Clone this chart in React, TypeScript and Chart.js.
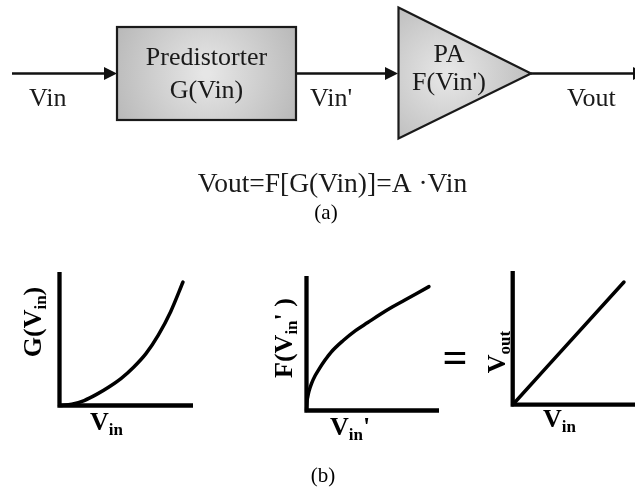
import React, { useEffect, useRef } from "react";
import { Chart, registerables } from "chart.js";

Chart.register(...registerables);

const W = 635;
const H = 490;

// Predistorter characteristic G(Vin) (normalised)
const gIn = [0, 0.1, 0.2, 0.3, 0.4, 0.5, 0.6, 0.7, 0.8, 0.9, 1.0];
const gOut = [0, 0.01, 0.04, 0.09, 0.15, 0.22, 0.31, 0.42, 0.57, 0.76, 1.0];

// PA characteristic F(Vin') (normalised, compressive)
const fIn = [0, 0.005, 0.01, 0.02, 0.04, 0.07, 0.1, 0.15, 0.2, 0.3, 0.4, 0.5, 0.6, 0.7, 0.8, 0.9, 1.0];
const fOut = [0, 0.08, 0.11, 0.155, 0.215, 0.28, 0.33, 0.405, 0.47, 0.565, 0.645, 0.71, 0.775, 0.835, 0.89, 0.945, 1.0];

// Cascaded, linearised response Vout = A·Vin
const linIn = [0, 1];
const linOut = [0, 1];

// Text of the block diagram
const predistorterText = ["Predistorter", "G(Vin)"];
const paText = ["PA", "F(Vin')"];
const signalNames = ["Vin", "Vin'", "Vout"];
const equationText = "Vout=F[G(Vin)]=A \u00B7Vin";
const captions = ["(a)", "(b)"];

type Part = { t: string; sub?: boolean };

const SERIF = '"Liberation Serif", "Times New Roman", serif';

function drawParts(
  ctx: CanvasRenderingContext2D,
  parts: Part[],
  x: number,
  y: number,
  size: number,
  subSize: number,
  subDrop: number
) {
  // draws a run of bold text with subscripts, starting at x on baseline y
  let cx = x;
  for (const p of parts) {
    ctx.font = `bold ${p.sub ? subSize : size}px ${SERIF}`;
    ctx.fillText(p.t, cx, p.sub ? y + subDrop : y);
    cx += ctx.measureText(p.t).width;
  }
  return cx - x;
}

function partsWidth(ctx: CanvasRenderingContext2D, parts: Part[], size: number, subSize: number) {
  let w = 0;
  for (const p of parts) {
    ctx.font = `bold ${p.sub ? subSize : size}px ${SERIF}`;
    w += ctx.measureText(p.t).width;
  }
  return w;
}

type PlotSpec = {
  xs: number[];
  ys: number[];
  area: { left: number; top: number; right: number; bottom: number };
  xMax: number;
  yMax: number;
  xLabel: Part[];
  xLabelAt: [number, number];
  yLabel: Part[];
  yLabelAt: [number, number];
};

const plots: PlotSpec[] = [
  {
    xs: gIn,
    ys: gOut,
    area: { left: 59.5, top: 272, right: 193, bottom: 405.5 },
    xMax: 1.081,
    yMax: 1.081,
    xLabel: [{ t: "V" }, { t: "in", sub: true }],
    xLabelAt: [90, 430],
    yLabel: [{ t: "G(V" }, { t: "in", sub: true }, { t: ")" }],
    yLabelAt: [41, 322],
  },
  {
    xs: fIn,
    ys: fOut,
    area: { left: 306.5, top: 276, right: 439, bottom: 410.5 },
    xMax: 1.082,
    yMax: 1.086,
    xLabel: [{ t: "V" }, { t: "in", sub: true }, { t: "'" }],
    xLabelAt: [330, 435],
    yLabel: [{ t: "F(V" }, { t: "in", sub: true }, { t: "' )" }],
    yLabelAt: [292, 338],
  },
  {
    xs: linIn,
    ys: linOut,
    area: { left: 512.7, top: 271, right: 635, bottom: 404.7 },
    xMax: 1.099,
    yMax: 1.09,
    xLabel: [{ t: "V" }, { t: "in", sub: true }],
    xLabelAt: [543, 427],
    yLabel: [{ t: "V" }, { t: "out", sub: true }],
    yLabelAt: [505, 352],
  },
];

function drawArrow(ctx: CanvasRenderingContext2D, x1: number, x2: number, y: number) {
  const head = 13;
  const half = 6.5;
  ctx.beginPath();
  ctx.moveTo(x1, y);
  ctx.lineTo(x2 - head + 1, y);
  ctx.lineWidth = 2.4;
  ctx.strokeStyle = "#111";
  ctx.stroke();
  ctx.beginPath();
  ctx.moveTo(x2, y);
  ctx.lineTo(x2 - head, y - half);
  ctx.lineTo(x2 - head, y + half);
  ctx.closePath();
  ctx.fillStyle = "#111";
  ctx.fill();
}

const diagramPlugin = {
  id: "blockDiagram",
  afterDraw(chart: any) {
    const ctx: CanvasRenderingContext2D = chart.ctx;
    ctx.save();
    const yLine = 73.5;

    // signal paths
    drawArrow(ctx, 12, 117, yLine);
    drawArrow(ctx, 296, 398, yLine);
    drawArrow(ctx, 531, 646, yLine);

    // predistorter block
    const bx = 117, by = 27, bw = 179, bh = 93;
    const g1 = ctx.createRadialGradient(bx + bw / 2, by + bh / 2, 4, bx + bw / 2, by + bh / 2, 105);
    g1.addColorStop(0, "#e6e6e6");
    g1.addColorStop(1, "#b6b6b6");
    ctx.fillStyle = g1;
    ctx.fillRect(bx, by, bw, bh);
    ctx.lineWidth = 2.2;
    ctx.strokeStyle = "#1a1a1a";
    ctx.strokeRect(bx, by, bw, bh);

    // PA triangle
    const tx = 398.5;
    const g2 = ctx.createRadialGradient(448, 74, 4, 448, 74, 100);
    g2.addColorStop(0, "#e6e6e6");
    g2.addColorStop(1, "#b6b6b6");
    ctx.beginPath();
    ctx.moveTo(tx, 7.5);
    ctx.lineTo(531, yLine);
    ctx.lineTo(tx, 138.5);
    ctx.closePath();
    ctx.fillStyle = g2;
    ctx.fill();
    ctx.lineJoin = "miter";
    ctx.stroke();

    // texts
    ctx.fillStyle = "#1a1a1a";
    ctx.font = `26px ${SERIF}`;
    ctx.textAlign = "center";
    ctx.textBaseline = "alphabetic";
    ctx.fillText(predistorterText[0], 206.5, 65);
    ctx.fillText(predistorterText[1], 206.5, 98);
    ctx.fillText(paText[0], 449, 62);
    ctx.fillText(paText[1], 449, 90);
    ctx.textAlign = "left";
    ctx.fillText(signalNames[0], 29, 106);
    ctx.fillText(signalNames[1], 310, 106);
    ctx.fillText(signalNames[2], 567, 106);

    ctx.textAlign = "center";
    ctx.font = `27.5px ${SERIF}`;
    ctx.fillText(equationText, 332.5, 192);

    ctx.fillStyle = "#000";
    ctx.font = `21px ${SERIF}`;
    ctx.fillText(captions[0], 326, 219);
    ctx.fillText(captions[1], 323, 482);

    // equality sign between the PA curve and the linear response
    ctx.font = `bold 44px ${SERIF}`;
    ctx.fillText("=", 455, 372);
    ctx.restore();
  },
};

function makePlugin(spec: PlotSpec) {
  return {
    id: "transferAxes",
    beforeDatasetsDraw(chart: any) {
      const ctx: CanvasRenderingContext2D = chart.ctx;
      const xs = chart.scales.x;
      const ys = chart.scales.y;
      const x0 = xs.getPixelForValue(0);
      const y0 = ys.getPixelForValue(0);
      const xm = xs.getPixelForValue(xs.max);
      const ym = ys.getPixelForValue(ys.max);
      ctx.save();
      ctx.beginPath();
      ctx.moveTo(x0, ym);
      ctx.lineTo(x0, y0);
      ctx.lineTo(xm, y0);
      ctx.lineWidth = 4.3;
      ctx.lineJoin = "miter";
      ctx.lineCap = "butt";
      ctx.strokeStyle = "#000";
      ctx.stroke();
      ctx.restore();
    },
    afterDraw(chart: any) {
      const ctx: CanvasRenderingContext2D = chart.ctx;
      ctx.save();
      ctx.fillStyle = "#000";
      ctx.textAlign = "left";
      ctx.textBaseline = "alphabetic";
      drawParts(ctx, spec.xLabel, spec.xLabelAt[0], spec.xLabelAt[1], 26, 17, 5);
      const w = partsWidth(ctx, spec.yLabel, 26, 17);
      ctx.translate(spec.yLabelAt[0], spec.yLabelAt[1]);
      ctx.rotate(-Math.PI / 2);
      drawParts(ctx, spec.yLabel, -w / 2, 0, 26, 17, 5);
      ctx.restore();
    },
  };
}

function DiagramCanvas() {
  const ref = useRef<HTMLCanvasElement>(null);
  useEffect(() => {
    if (!ref.current) return;
    const chart = new Chart(ref.current, {
      type: "scatter",
      data: { datasets: [] },
      options: {
        responsive: false,
        animation: false,
        events: [],
        plugins: { legend: { display: false }, tooltip: { enabled: false } },
        scales: {
          x: { display: false, min: 0, max: W },
          y: { display: false, min: 0, max: H, reverse: true },
        },
      },
      plugins: [diagramPlugin],
    });
    return () => chart.destroy();
  }, []);
  return (
    <canvas
      ref={ref}
      width={W}
      height={H}
      style={{ position: "absolute", left: 0, top: 0, width: W, height: H }}
    />
  );
}

function TransferPlot({ spec }: { spec: PlotSpec }) {
  const ref = useRef<HTMLCanvasElement>(null);
  useEffect(() => {
    if (!ref.current) return;
    const pts = spec.xs.map((x, i) => ({ x, y: spec.ys[i] }));
    const chart = new Chart(ref.current, {
      type: "line",
      data: {
        datasets: [
          {
            data: pts,
            borderColor: "#000",
            borderWidth: 3.5,
            borderCapStyle: "round",
            pointRadius: 0,
            cubicInterpolationMode: "monotone",
            fill: false,
            clip: false as any,
          },
        ],
      },
      options: {
        responsive: false,
        animation: false,
        events: [],
        layout: {
          padding: {
            left: spec.area.left,
            top: spec.area.top,
            right: W - spec.area.right,
            bottom: H - spec.area.bottom,
          },
        },
        plugins: { legend: { display: false }, tooltip: { enabled: false } },
        scales: {
          x: { type: "linear", display: false, min: 0, max: spec.xMax },
          y: { type: "linear", display: false, min: 0, max: spec.yMax },
        },
      },
      plugins: [makePlugin(spec)],
    });
    return () => chart.destroy();
  }, [spec]);
  return (
    <canvas
      ref={ref}
      width={W}
      height={H}
      style={{ position: "absolute", left: 0, top: 0, width: W, height: H }}
    />
  );
}

export default function App() {
  return (
    <div
      style={{
        position: "absolute",
        left: 0,
        top: 0,
        width: W,
        height: H,
        background: "#fff",
        overflow: "hidden",
      }}
    >
      <DiagramCanvas />
      {plots.map((p, i) => (
        <TransferPlot key={i} spec={p} />
      ))}
    </div>
  );
}
